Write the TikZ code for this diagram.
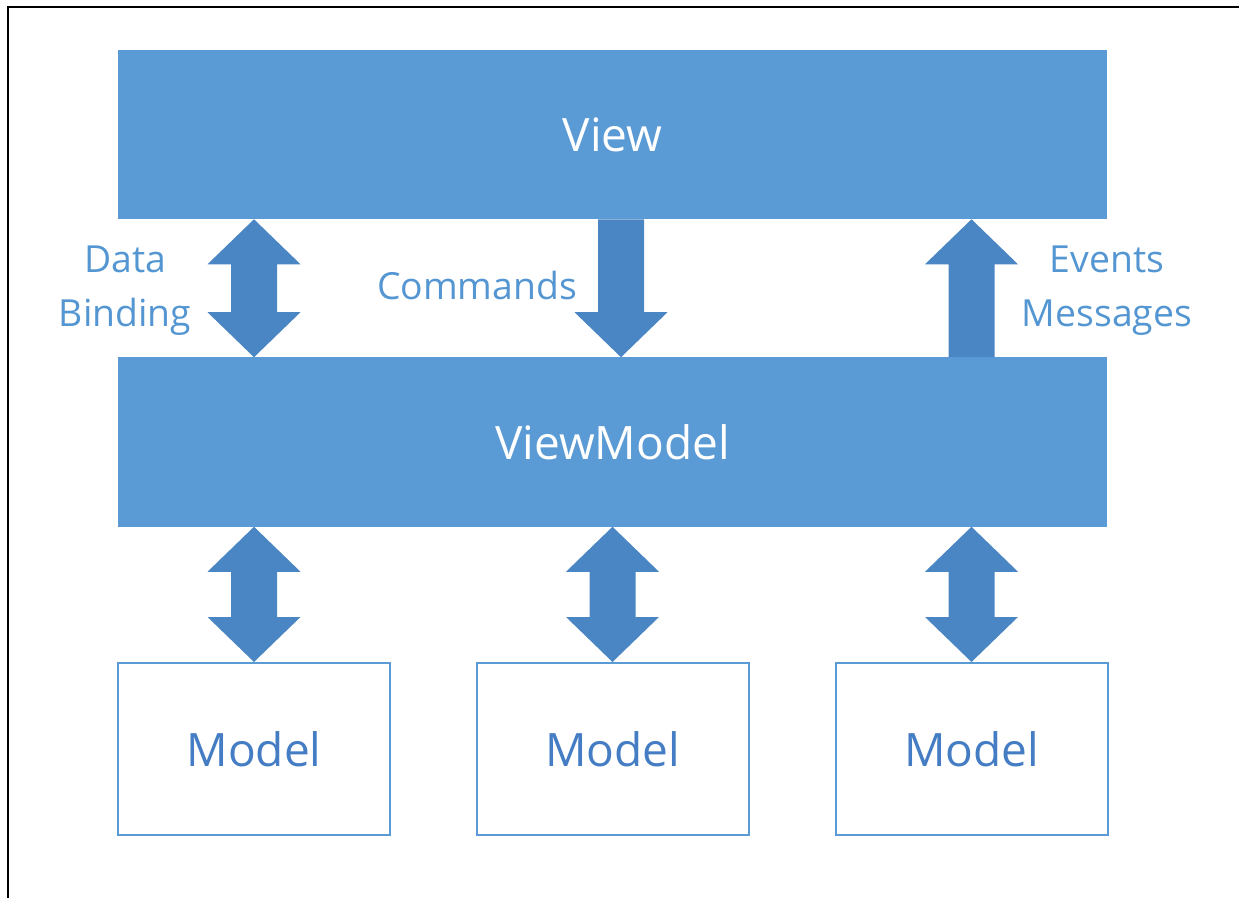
\documentclass[tikz,border=0pt]{standalone}
\usepackage{fontspec}
\setmainfont{Open Sans}
\usetikzlibrary{calc}

\definecolor{boxblue}{RGB}{91,155,213}
\definecolor{arrblue}{RGB}{74,134,196}
\definecolor{lblblue}{RGB}{84,150,210}
\definecolor{mdlblue}{RGB}{68,125,195}

\tikzset{
  layer/.style={fill=boxblue, text=white, minimum width=741.75pt, minimum height=126.75pt,
    inner sep=0pt, font=\fontsize{34.5}{40}\selectfont},
  modelbox/.style={draw=boxblue, line width=1.5pt, fill=white, text=mdlblue,
    minimum width=204pt, minimum height=129pt, inner sep=0pt, font=\fontsize{34.5}{40}\selectfont},
  lbl/.style={text=lblblue, anchor=base, inner sep=0pt, font=\fontsize{28}{34}\selectfont},
  blockarr/.style={fill=arrblue}
}

% block arrows: #1 column, #2 upper node, #3 lower node
\newcommand{\bothwaysarr}[3]{%
  \fill[blockarr] (#2.south -| #1) -- ($(#2.south -| #1)+(46.5,45)$) -- ($(#2.south -| #1)+(23,45)$)
    -- ($(#3.north -| #1)+(23,-45)$) -- ($(#3.north -| #1)+(46.5,-45)$) -- (#3.north -| #1)
    -- ($(#3.north -| #1)+(-46.5,-45)$) -- ($(#3.north -| #1)+(-23,-45)$)
    -- ($(#2.south -| #1)+(-23,45)$) -- ($(#2.south -| #1)+(-46.5,45)$) -- cycle;}
\newcommand{\downarr}[3]{%
  \fill[blockarr] ($(#2.south -| #1)+(-23,0)$) -- ($(#2.south -| #1)+(23,0)$)
    -- ($(#3.north -| #1)+(23,-45)$) -- ($(#3.north -| #1)+(46.5,-45)$) -- (#3.north -| #1)
    -- ($(#3.north -| #1)+(-46.5,-45)$) -- ($(#3.north -| #1)+(-23,-45)$) -- cycle;}
\newcommand{\uparr}[3]{%
  \fill[blockarr] ($(#3.north -| #1)+(-23,0)$) -- ($(#3.north -| #1)+(23,0)$)
    -- ($(#2.south -| #1)+(23,45)$) -- ($(#2.south -| #1)+(46.5,45)$) -- (#2.south -| #1)
    -- ($(#2.south -| #1)+(-46.5,45)$) -- ($(#2.south -| #1)+(-23,45)$) -- cycle;}

\begin{document}
\begin{tikzpicture}[x=0.75pt,y=-0.75pt]
\useasboundingbox (0,0) rectangle (1239,898);

% frame (cut off at right and bottom)
\draw[line width=1.5pt] (8,898) -- (8,7) -- (1239,7);

% layers
\node[layer] (view) at (612.5,134.5) {View};
\node[layer] (vm) at (612.5,442) {ViewModel};

% models
\node[modelbox] (m1) at (254,749) {Model};
\node[modelbox] (m2) at (612.5,749) {Model};
\node[modelbox] (m3) at (971.5,749) {Model};

% arrow columns
\coordinate (colL) at (254,0);
\coordinate (colC) at (621,0);
\coordinate (colM) at (612.5,0);
\coordinate (colR) at (971.5,0);

\bothwaysarr{colL}{view}{vm}
\downarr{colC}{view}{vm}
\uparr{colR}{view}{vm}

\bothwaysarr{colL}{vm}{m1}
\bothwaysarr{colM}{vm}{m2}
\bothwaysarr{colR}{vm}{m3}

% labels
\node[lbl] (data) at (125,273) {Data};
\node[lbl] (binding) at (125,327) {Binding};
\node[lbl] (commands) at (477,300) {Commands};
\node[lbl] (events) at (1107,273) {Events};
\node[lbl] (messages) at (1107,327) {Messages};

\end{tikzpicture}
\end{document}
